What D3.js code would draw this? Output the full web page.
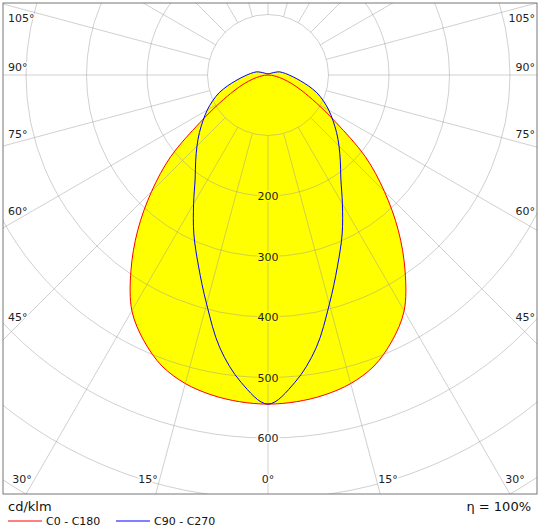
<!DOCTYPE html>
<html><head><meta charset="utf-8">
<script src="https://cdn.jsdelivr.net/npm/d3@7"></script>
<style>body{margin:0;background:#fff}svg{display:block}</style>
</head><body><div id="chart"></div>
<script>
// gamma angles (deg, from nadir) and intensities (cd/klm)
const redGamma = [0, 5, 10, 15, 20, 25, 30, 35, 40, 45, 50, 55, 60, 65, 70, 75, 80, 85, 90];
const redValues = [544, 542, 537, 528, 512, 485, 450, 395, 335, 272, 210, 138, 92, 62, 42, 26, 14, 6, 0];
const blueGamma = [0, 5, 10, 15, 20, 25, 30, 35, 40, 45, 50, 55, 60, 65, 70, 75, 80, 85, 90, 95, 100, 105, 110, 120, 135, 180];
const blueValues = [544, 510, 458, 392, 336, 290, 246, 210, 186, 166, 148, 131, 116, 101, 86, 69, 54, 43, 35, 29, 24, 20, 14, 6, 3, 2];
const ringValues = [100, 200, 300, 400, 500, 600, 700, 800, 900, 1000];
const ringLabels = [200, 300, 400, 500, 600];
const sideLabels = [105, 90, 75, 60, 45];

const W = 543, H = 528;
const frame = { x: 3, y: 3, w: 534, h: 491 };
const cx = 268, cy = 75;

const svg = d3.select("#chart").append("svg").attr("width", W).attr("height", H)
  .style("font-family", "Verdana, 'DejaVu Sans', sans-serif");

svg.append("clipPath").attr("id", "clip").append("rect")
  .attr("x", frame.x).attr("y", frame.y).attr("width", frame.w).attr("height", frame.h);

const r = d3.scaleLinear().domain([0, 100]).range([0, 60.5]);

const g = svg.append("g").attr("clip-path", "url(#clip)")
  .append("g").attr("transform", `translate(${cx},${cy})`);

// build closed loop: right side then mirrored left side
function loop(gamma, vals) {
  const pts = gamma.map((a, i) => [Math.PI - a * Math.PI / 180, r(vals[i])]);
  const left = gamma.slice().reverse().map((a, i) => [Math.PI + a * Math.PI / 180, r(vals[vals.length - 1 - i])]);
  return pts.concat(left.slice(1, -1));
}
const radial = d3.lineRadial().curve(d3.curveCatmullRomClosed);

const redPts = loop(redGamma, redValues);
const bluePts = loop(blueGamma, blueValues);

g.append("path").attr("d", radial(redPts)).attr("fill", "#ffff00");
g.append("path").attr("d", radial(bluePts)).attr("fill", "#ffff00");

// grid
const gridColor = "rgba(150,150,150,0.45)";
g.selectAll(".ring").data(ringValues).enter().append("circle")
  .attr("r", d => r(d)).attr("fill", "none").attr("stroke", gridColor).attr("stroke-width", 1);
g.selectAll(".spoke").data(d3.range(0, 360, 15)).enter().append("line")
  .attr("x1", d => r(100) * Math.sin(d * Math.PI / 180))
  .attr("y1", d => r(100) * Math.cos(d * Math.PI / 180))
  .attr("x2", d => r(1200) * Math.sin(d * Math.PI / 180))
  .attr("y2", d => r(1200) * Math.cos(d * Math.PI / 180))
  .attr("stroke", gridColor).attr("stroke-width", 1);

g.append("path").attr("d", radial(redPts)).attr("fill", "none").attr("stroke", "#ff0000").attr("stroke-width", 1);
g.append("path").attr("d", radial(bluePts)).attr("fill", "none").attr("stroke", "#0000ff").attr("stroke-width", 1);

// ring labels
g.selectAll(".rl").data(ringLabels).enter().append("text")
  .attr("x", 0).attr("y", d => r(d) + 4).attr("text-anchor", "middle")
  .attr("font-size", 11).attr("fill", "#222")
  .attr("stroke", d => d <= 500 ? "#ffff00" : "#fff").attr("stroke-width", 3).attr("paint-order", "stroke")
  .text(d => d);

// frame
svg.append("rect").attr("x", frame.x).attr("y", frame.y).attr("width", frame.w).attr("height", frame.h)
  .attr("fill", "none").attr("stroke", "#777").attr("stroke-width", 1);

// angle labels
const sideX = 250;
sideLabels.forEach(a => {
  const t = Math.tan(a * Math.PI / 180);
  const y = cy + sideX / t + (a > 90 ? 14 : -4);
  [[8, "start"], [535, "end"]].forEach(([x, anchor]) => {
    svg.append("text").attr("x", x).attr("y", y).attr("text-anchor", anchor)
      .attr("font-size", 11).attr("fill", "#222")
      .attr("stroke", "#fff").attr("stroke-width", 3).attr("paint-order", "stroke")
      .text(a + "°");
  });
});
const bottomY = 483;
const bx = [[22, "30°"], [148, "15°"], [268, "0°"], [388, "15°"], [515, "30°"]];
bx.forEach(([x, t]) => {
  svg.append("text").attr("x", x).attr("y", bottomY).attr("text-anchor", "middle")
    .attr("font-size", 11).attr("fill", "#222")
    .attr("stroke", "#fff").attr("stroke-width", 3).attr("paint-order", "stroke").text(t);
});

// footer
svg.append("text").attr("x", 8).attr("y", 511).attr("font-size", 13).attr("fill", "#111").text("cd/klm");
svg.append("text").attr("x", 531).attr("y", 511).attr("text-anchor", "end").attr("font-size", 13).attr("fill", "#111").text("η = 100%");
const legend = [["C0 - C180", "#ff0000", 8], ["C90 - C270", "#0000ff", 116]];
legend.forEach(([t, c, x]) => {
  svg.append("line").attr("x1", x).attr("x2", x + 34).attr("y1", 521).attr("y2", 521).attr("stroke", c);
  svg.append("text").attr("x", x + 38).attr("y", 525).attr("font-size", 11).attr("fill", "#111").text(t);
});
</script></body></html>
